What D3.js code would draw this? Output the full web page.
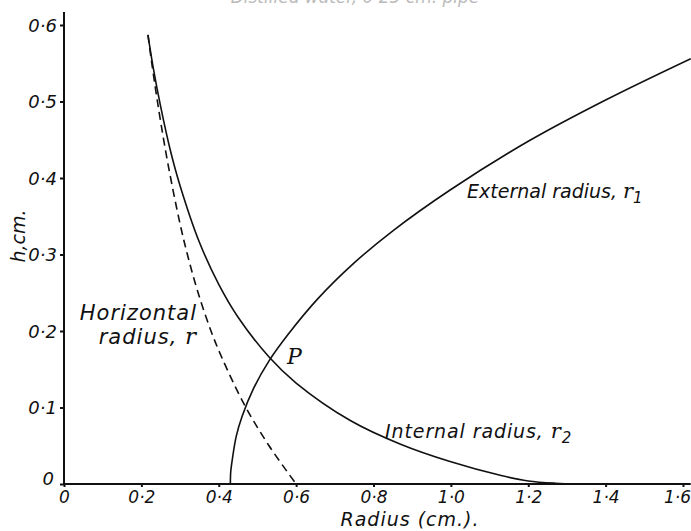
<!DOCTYPE html>
<html>
<head>
<meta charset="utf-8">
<script src="https://cdn.jsdelivr.net/npm/d3@7"></script>
<style>
	body { margin: 0; background: #fff; }
	svg text { font-family: "DejaVu Sans", sans-serif; font-style: italic; fill: #111; }
</style>
</head>
<body>
<svg id="chart" width="691" height="531"></svg>
<script>
// values (radius in cm, h in cm)
var xTicks = [0, 0.2, 0.4, 0.6, 0.8, 1.0, 1.2, 1.4, 1.6];
var yTicks = [0, 0.1, 0.2, 0.3, 0.4, 0.5, 0.6];

var internalR = [0.217, 0.23, 0.25, 0.275, 0.3, 0.35, 0.4, 0.45, 0.53, 0.6, 0.74, 0.87, 1.0, 1.13, 1.2, 1.27, 1.33];
var internalH = [0.587, 0.546, 0.493, 0.436, 0.39, 0.316, 0.261, 0.218, 0.166, 0.132, 0.083, 0.052, 0.029, 0.011, 0.004, 0.001, 0];

var externalR = [0.43, 0.431, 0.435, 0.445, 0.46, 0.49, 0.53, 0.58, 0.654, 0.75, 0.85, 1.0, 1.2, 1.4, 1.62];
var externalH = [0, 0.016, 0.032, 0.062, 0.088, 0.125, 0.161, 0.196, 0.241, 0.289, 0.331, 0.385, 0.448, 0.502, 0.556];

var horizR = [0.217, 0.225, 0.237, 0.25, 0.27, 0.30, 0.32, 0.346, 0.38, 0.41, 0.468, 0.53, 0.60];
var horizH = [0.587, 0.557, 0.515, 0.473, 0.415, 0.34, 0.298, 0.251, 0.20, 0.163, 0.102, 0.05, 0];

var svg = d3.select('#chart');

var x = d3.scaleLinear().domain([0, 1.6]).range([64, 683]);
var y = d3.scaleLinear().domain([0, 0.6]).range([484, 25]);

var fmt = function (d) {
	return d === 0 ? '0' : d3.format('.1f')(d).replace('.', '\u00b7');
};

// faint caption cut off at the top of the page
svg.append('text')
	.attr('x', 355)
	.attr('y', 3)
	.attr('text-anchor', 'middle')
	.style('font-size', '17px')
	.style('fill', '#bbb')
	.text('Distilled water, 0\u00b725 cm. pipe');

// axes
var xAxis = svg.append('g')
	.attr('transform', `translate(0,${y(0)})`)
	.call(d3.axisBottom(x).tickValues(xTicks).tickSize(3).tickSizeOuter(0).tickFormat(fmt));
xAxis.select('.domain').remove();
xAxis.selectAll('line').attr('stroke', '#111').attr('stroke-width', 2);
xAxis.selectAll('text')
	.attr('dy', null)
	.attr('y', 19)
	.style('font-size', '17px')
	.style('font-family', '"DejaVu Sans", sans-serif');
xAxis.selectAll('.tick').filter(function (d) { return d === 1.6; })
	.select('text').attr('x', -6);

var yAxis = svg.append('g')
	.attr('transform', `translate(${x(0)},0)`)
	.call(d3.axisLeft(y).tickValues(yTicks).tickSize(4).tickSizeOuter(0).tickFormat(fmt));
yAxis.select('.domain').remove();
yAxis.selectAll('line').attr('stroke', '#111').attr('stroke-width', 2);
yAxis.selectAll('text')
	.attr('x', -7)
	.attr('dy', '0.36em')
	.style('font-size', '18px')
	.style('font-family', '"DejaVu Sans", sans-serif');
yAxis.selectAll('.tick').filter(function (d) { return d === 0; })
	.select('text').attr('x', -10).attr('dy', '0.05em');

svg.append('line')
	.attr('x1', x(0)).attr('x2', x(1.62))
	.attr('y1', y(0)).attr('y2', y(0))
	.attr('stroke', '#111').attr('stroke-width', 2.2);
svg.append('line')
	.attr('x1', x(0)).attr('x2', x(0))
	.attr('y1', y(0)).attr('y2', y(0.617))
	.attr('stroke', '#111').attr('stroke-width', 2);

// curves
var line = d3.line()
	.x(function (d) { return x(d[0]); })
	.y(function (d) { return y(d[1]); })
	.curve(d3.curveCatmullRom);

function pairs(a, b) {
	return a.map(function (v, i) { return [v, b[i]]; });
}

svg.append('path')
	.attr('d', line(pairs(internalR, internalH)))
	.attr('fill', 'none').attr('stroke', '#111').attr('stroke-width', 1.6);
svg.append('path')
	.attr('d', line(pairs(externalR, externalH)))
	.attr('fill', 'none').attr('stroke', '#111').attr('stroke-width', 1.6);
svg.append('path')
	.attr('d', line(pairs(horizR, horizH)))
	.attr('fill', 'none').attr('stroke', '#111').attr('stroke-width', 1.6)
	.attr('stroke-dasharray', '8,5');

// labels
function label(tx, ty, parts, size, anchor, spacing) {
	var t = svg.append('text')
		.attr('x', tx).attr('y', ty)
		.attr('text-anchor', anchor || 'start')
		.style('font-size', size + 'px')
		.style('letter-spacing', (spacing || 0) + 'px');
	parts.forEach(function (p) {
		var s = t.append('tspan').text(p.t);
		if (p.serif) s.style('font-family', '"DejaVu Serif", serif').style('font-size', (size + 2) + 'px');
		if (p.sub) s.attr('dy', 5).style('font-size', (size - 4) + 'px');
	});
	return t;
}

label(197, 320, [{t: 'Horizontal'}], 21, 'end', 1);
label(197, 344, [{t: 'radius, '}, {t: 'r', serif: true}], 21, 'end', 1);
label(467, 198, [{t: 'External radius, '}, {t: 'r', serif: true}, {t: '1', sub: true}], 19);
label(385, 438, [{t: 'Internal radius, '}, {t: 'r', serif: true}, {t: '2', sub: true}], 19, 'start', 0.9);
label(410, 526, [{t: 'Radius (cm.).'}], 19, 'middle', 1);
label(287, 364, [{t: 'P', serif: true}], 20);

svg.append('text')
	.attr('transform', 'translate(25,236) rotate(-90)')
	.attr('text-anchor', 'middle')
	.style('font-size', '19px')
	.text('h,cm.');
</script>
</body>
</html>
